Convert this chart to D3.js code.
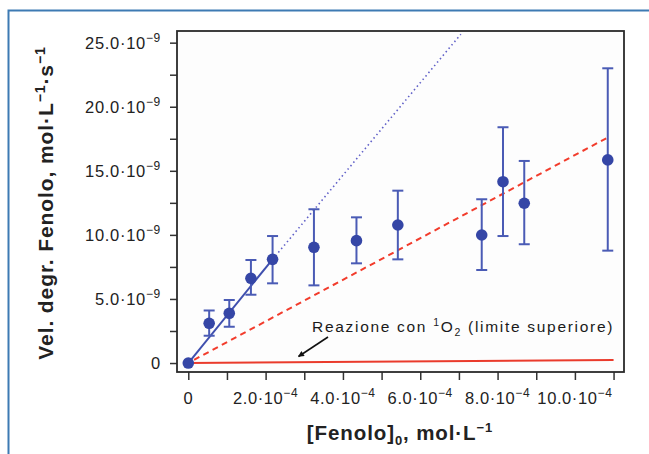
<!DOCTYPE html>
<html>
<head>
<meta charset="utf-8">
<script src="https://cdn.jsdelivr.net/npm/d3@7"></script>
<style>
    body { margin: 0; background: #fff; }
    svg { display: block; font-family: "Liberation Sans", Arial, sans-serif; }
</style>
</head>
<body>
<script>
// [Fenolo]0 in units of 1e-4 mol/L, rate in units of 1e-9 mol/L/s
var conc   = [0, 0.54, 1.06, 1.62, 2.18, 3.25, 4.35, 5.42, 7.59, 8.14, 8.69, 10.85]
var rate   = [0, 3.10, 3.88, 6.61, 8.09, 9.03, 9.55, 10.77, 9.99, 14.15, 12.47, 15.85]
var errLo  = [null, 2.13, 2.83, 5.33, 6.22, 6.06, 7.78, 8.09, 7.26, 9.91, 9.27, 8.77]
var errHi  = [null, 4.10, 4.92, 8.04, 9.91, 12.00, 11.37, 13.45, 12.78, 18.40, 15.77, 23.00]

var xTicks = [0, 1, 2, 3, 4, 5, 6, 7, 8, 9, 10, 11]
var xLabels = [0, 2, 4, 6, 8, 10]
var yTicks = [0, 2.5, 5, 7.5, 10, 12.5, 15, 17.5, 20, 22.5, 25]
var yLabels = [0, 5, 10, 15, 20, 25]

// fitted lines, end points
var fitInit   = [[0, 0], [2.18, 8.09]]
var fitExtra  = [[2.18, 8.09], [7.05, 25.66]]
var fitAll    = [[0.15, 0.25], [10.81, 17.54]]
var singletO2 = [[0, 0], [11.0, 0.23]]

var W = 649, H = 454
var box = { left: 177, top: 31, right: 624, bottom: 372 }

var svg = d3.select('body').append('svg')
    .attr('width', W)
    .attr('height', H)

// outer frame (only top and left edges visible)
svg.append('path')
    .attr('d', 'M8.5,454 V10.5 H649')
    .attr('fill', 'none')
    .attr('stroke', '#3d7ab3')
    .attr('stroke-width', 2)

var x = d3.scaleLinear().domain([-0.292, 11.27]).range([box.left, box.right])
var y = d3.scaleLinear().domain([-0.70, 25.91]).range([box.bottom, box.top])

svg.append('rect')
    .attr('x', box.left).attr('y', box.top)
    .attr('width', box.right - box.left)
    .attr('height', box.bottom - box.top)
    .attr('fill', '#fdfdfd')

// axes (ticks only, labels built by hand for the 10^n superscripts)
svg.append('g')
    .attr('transform', 'translate(0,' + box.bottom + ')')
    .call(d3.axisBottom(x).tickValues(xTicks).tickSize(8).tickFormat(''))
svg.append('g')
    .attr('transform', 'translate(' + box.left + ',0)')
    .call(d3.axisLeft(y).tickValues(yTicks).tickSize(7).tickFormat(''))
svg.selectAll('.domain').remove()
svg.selectAll('.tick line').attr('stroke', '#333').attr('stroke-width', 1.5)

function sciLabel(sel, v, exp) {
    if (v === 0) { sel.text('0'); return }
    sel.append('tspan').text(v.toFixed(1) + '·10')
    sel.append('tspan').attr('dy', -7).attr('font-size', 12).text('−' + exp)
}

svg.append('g').selectAll('text')
    .data(xLabels)
    .enter().append('text')
    .attr('x', d => x(d))
    .attr('y', 404)
    .attr('text-anchor', 'middle')
    .attr('font-size', 16.5)
    .attr('letter-spacing', 0.6)
    .attr('fill', '#222')
    .each(function (d) { sciLabel(d3.select(this), d, 4) })

svg.append('g').selectAll('text')
    .data(yLabels)
    .enter().append('text')
    .attr('x', 161)
    .attr('y', d => y(d) + 6)
    .attr('text-anchor', 'end')
    .attr('font-size', 16.5)
    .attr('letter-spacing', 0.7)
    .attr('fill', '#222')
    .each(function (d) { sciLabel(d3.select(this), d, 9) })

// lines
var line = d3.line().x(d => x(d[0])).y(d => y(d[1]))

svg.append('path').datum(singletO2)
    .attr('d', line).attr('fill', 'none')
    .attr('stroke', '#ea3b2c').attr('stroke-width', 2)

svg.append('path').datum(fitAll)
    .attr('d', line).attr('fill', 'none')
    .attr('stroke', '#f23c2c').attr('stroke-width', 2)
    .attr('stroke-dasharray', '6,4.5')

svg.append('path').datum(fitExtra)
    .attr('d', line).attr('fill', 'none')
    .attr('stroke', '#6060c8').attr('stroke-width', 1.6)
    .attr('stroke-dasharray', '1.5,3')

svg.append('path').datum(fitInit)
    .attr('d', line).attr('fill', 'none')
    .attr('stroke', '#3f4fae').attr('stroke-width', 2)

// error bars
var idx = d3.range(conc.length).filter(i => errLo[i] !== null)
var bars = svg.append('g')
    .attr('stroke', '#4a5bb5')
    .attr('stroke-width', 2)
bars.selectAll('.v').data(idx).enter().append('line')
    .attr('x1', i => x(conc[i])).attr('x2', i => x(conc[i]))
    .attr('y1', i => y(errLo[i])).attr('y2', i => y(errHi[i]))
bars.selectAll('.lo').data(idx).enter().append('line')
    .attr('x1', i => x(conc[i]) - 5.5).attr('x2', i => x(conc[i]) + 5.5)
    .attr('y1', i => y(errLo[i])).attr('y2', i => y(errLo[i]))
bars.selectAll('.hi').data(idx).enter().append('line')
    .attr('x1', i => x(conc[i]) - 5.5).attr('x2', i => x(conc[i]) + 5.5)
    .attr('y1', i => y(errHi[i])).attr('y2', i => y(errHi[i]))

// points
svg.append('g').selectAll('circle')
    .data(conc)
    .enter().append('circle')
    .attr('cx', d => x(d))
    .attr('cy', (d, i) => y(rate[i]))
    .attr('r', 5.8)
    .attr('fill', '#3546a6')

// plot frame
svg.append('rect')
    .attr('x', box.left).attr('y', box.top)
    .attr('width', box.right - box.left)
    .attr('height', box.bottom - box.top)
    .attr('fill', 'none')
    .attr('stroke', '#2a2a2a')
    .attr('stroke-width', 1.8)

// annotation
var note = svg.append('text')
    .attr('x', 312).attr('y', 332)
    .attr('font-size', 15.5)
    .attr('letter-spacing', 1.7)
    .attr('fill', '#1a1a1a')
note.append('tspan').text('Reazione con ')
note.append('tspan').attr('dy', -6).attr('font-size', 10.5).text('1')
note.append('tspan').attr('dy', 6).text('O')
note.append('tspan').attr('dy', 4).attr('font-size', 10.5).text('2')
note.append('tspan').attr('dy', -4).text(' (limite superiore)')

svg.append('defs').append('marker')
    .attr('id', 'head')
    .attr('viewBox', '0 0 10 10')
    .attr('refX', 9).attr('refY', 5)
    .attr('markerWidth', 9).attr('markerHeight', 6)
    .attr('markerUnits', 'userSpaceOnUse')
    .attr('orient', 'auto')
    .append('path').attr('d', 'M0,0 L10,5 L0,10 Z').attr('fill', '#111')

svg.append('line')
    .attr('x1', 328).attr('y1', 337)
    .attr('x2', 298.5).attr('y2', 356.5)
    .attr('stroke', '#111').attr('stroke-width', 1.6)
    .attr('marker-end', 'url(#head)')

// axis titles
var xt = svg.append('text')
    .attr('x', 400).attr('y', 440)
    .attr('text-anchor', 'middle')
    .attr('font-size', 20.5).attr('font-weight', 'bold')
    .attr('letter-spacing', 0.9)
    .attr('fill', '#222')
xt.append('tspan').text('[Fenolo]')
xt.append('tspan').attr('dy', 5).attr('font-size', 13).text('0')
xt.append('tspan').attr('dy', -5).text(', mol·L')
xt.append('tspan').attr('dy', -8).attr('font-size', 13).text('−1')

var yt = svg.append('text')
    .attr('transform', 'translate(53,203) rotate(-90)')
    .attr('text-anchor', 'middle')
    .attr('font-size', 21).attr('font-weight', 'bold')
    .attr('letter-spacing', 0.9)
    .attr('fill', '#222')
yt.append('tspan').text('Vel. degr. Fenolo, mol·L')
yt.append('tspan').attr('dy', -8).attr('font-size', 14).text('−1')
yt.append('tspan').attr('dy', 8).text('·s')
yt.append('tspan').attr('dy', -8).attr('font-size', 14).text('−1')
</script>
</body>
</html>
